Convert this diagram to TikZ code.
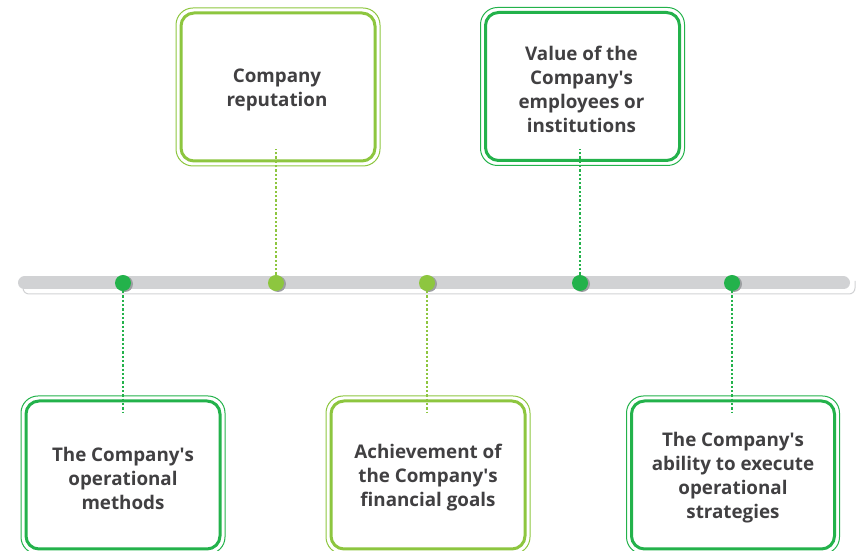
\documentclass[tikz,border=0pt]{standalone}
\usepackage{fontspec}
\setmainfont{Open Sans}
\usetikzlibrary{calc}
\definecolor{dkgreen}{HTML}{23B24B}
\definecolor{ltgreen}{HTML}{8DC63F}
\definecolor{bargray}{HTML}{D1D2D4}
\definecolor{shgray}{HTML}{9D9FA2}
\definecolor{txtgray}{HTML}{414042}
\newcommand{\ap}{\textquotesingle}
\tikzset{
  infobox/.style={rectangle, rounded corners=13pt, line width=3pt, fill=white,
    minimum width=194pt, minimum height=148pt, inner sep=0pt},
  boxtext/.style={align=center, inner sep=0pt, text=txtgray,
    font=\fontsize{18.8}{24}\selectfont\bfseries},
  outerline/.style={line width=1pt, rounded corners=17pt},
  dotnode/.style={circle, minimum size=16pt, inner sep=0pt},
  dotshadow/.style={circle, fill=shgray, minimum size=16pt, inner sep=0pt},
  linkline/.style={line width=2.3pt, dash pattern=on 2.3pt off 2pt}
}
\begin{document}
\begin{tikzpicture}[x=1pt,y=1pt]
\useasboundingbox (0,0) rectangle (860,551);
% timeline
\coordinate (barL) at (24.5,268);
\coordinate (barR) at (843.5,268);
\draw[bargray, line width=1pt, rounded corners=6pt] (23,270) -- (23,257) -- (855,257) -- (855,270);
\draw[bargray, line width=13pt, line cap=round] (barL) -- (barR);
% boxes
\node[infobox, draw=ltgreen] (t1) at (278,464) {};
\node[infobox, draw=dkgreen] (t2) at (582.5,464.5) {};
\node[infobox, draw=dkgreen] (b1) at (123,76) {};
\node[infobox, draw=ltgreen] (b2) at (428,76) {};
\node[infobox, draw=dkgreen, minimum width=203pt] (b3) at (733,76) {};
\foreach \n/\c in {t1/ltgreen,t2/dkgreen,b1/dkgreen,b2/ltgreen,b3/dkgreen}{
  \draw[outerline, \c] ([shift={(-3.5pt,-3.5pt)}]\n.south west) rectangle ([shift={(3.5pt,3.5pt)}]\n.north east);
}
\node[boxtext] (t1x) at ([shift={(-1pt,-3pt)}]t1.center) {Company\\reputation};
\node[boxtext] (t2x) at ([shift={(-1pt,-3pt)}]t2.center) {Value of the\\Company\ap s\\employees or\\institutions};
\node[boxtext] (b1x) at ([shift={(0pt,-3pt)}]b1.center) {The Company\ap s\\operational\\methods};
\node[boxtext] (b2x) at ([shift={(0pt,-3pt)}]b2.center) {Achievement of\\the Company\ap s\\financial goals};
\node[boxtext] (b3x) at ([shift={(0pt,-3pt)}]b3.center) {The Company\ap s\\ability to execute\\operational\\strategies};
% dots
\foreach \i/\x/\c in {1/123/dkgreen,2/276/ltgreen,3/427/ltgreen,4/580/dkgreen,5/732/dkgreen}{
  \node[dotshadow] (s\i) at (\x+2,267) {};
  \node[dotnode, fill=\c] (d\i) at (\x,268) {};
}
% links
\draw[linkline, dkgreen] (d1.south) -- ([yshift=-14pt]b1.north -| d1);
\draw[linkline, ltgreen] (d2.north) -- ([yshift=13pt]t1.south -| d2);
\draw[linkline, ltgreen] (d3.south) -- ([yshift=-14pt]b2.north -| d3);
\draw[linkline, dkgreen] (d4.north) -- ([yshift=13pt]t2.south -| d4);
\draw[linkline, dkgreen] (d5.south) -- ([yshift=-14pt]b3.north -| d5);
\end{tikzpicture}
\end{document}
